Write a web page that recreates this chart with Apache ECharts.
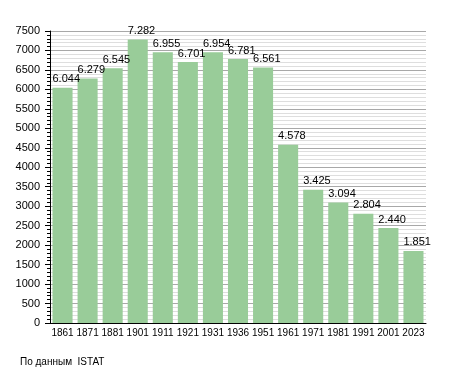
<!DOCTYPE html>
<html><head><meta charset="utf-8">
<script src="https://cdn.jsdelivr.net/npm/echarts@6/dist/echarts.min.js"></script>
<style>html,body{margin:0;padding:0;background:#fff}#c{width:455px;height:373px}</style>
</head><body><div id="c"></div>
<script>
const years = ["1861","1871","1881","1901","1911","1921","1931","1936","1951","1961","1971","1981","1991","2001","2023"];
const population = [6044,6279,6545,7282,6955,6701,6954,6781,6561,4578,3425,3094,2804,2440,1851];
const yMin = 0, yMax = 7500, yStep = 500;
const sourceText = "По данным  ISTAT";

const chart = echarts.init(document.getElementById('c'), null, {renderer:'canvas'});
const fnt = 'Liberation Sans, Arial, sans-serif';
chart.setOption({
  animation:false,
  grid:{left:50,right:29,top:31,bottom:50,containLabel:false},
  xAxis:{type:'category',data:years,
    axisLine:{lineStyle:{color:'#000',width:1}},
    axisTick:{show:false},
    axisLabel:{color:'#000',fontSize:10,fontFamily:fnt,margin:5,interval:0}},
  yAxis:{type:'value',min:yMin,max:yMax,interval:yStep,
    axisLine:{show:true,lineStyle:{color:'#000',width:1}},
    axisTick:{show:true,length:5,lineStyle:{color:'#000'}},
    minorTick:{show:true,splitNumber:5,length:3,lineStyle:{color:'#000'}},
    splitLine:{show:true,lineStyle:{color:'#a8a8a8',width:1}},
    minorSplitLine:{show:true,lineStyle:{color:'#dedede',width:1}},
    axisLabel:{color:'#000',fontSize:11,fontFamily:fnt,margin:10,formatter:v=>String(v)}},
  series:[{type:'bar',data:population,barCategoryGap:'20%',
    itemStyle:{color:'#99cc99'},
    label:{show:true,position:[0,-3],align:'left',verticalAlign:'bottom',color:'#000',fontSize:11,fontFamily:fnt,
      formatter:p=>{const v=p.value;return v>=1000?Math.floor(v/1000)+'.'+String(v%1000).padStart(3,'0'):String(v);}}}],
  graphic:[{type:'text',left:20,top:357,style:{text:sourceText,fill:'#000',font:'10px '+fnt}}]
});
</script></body></html>
